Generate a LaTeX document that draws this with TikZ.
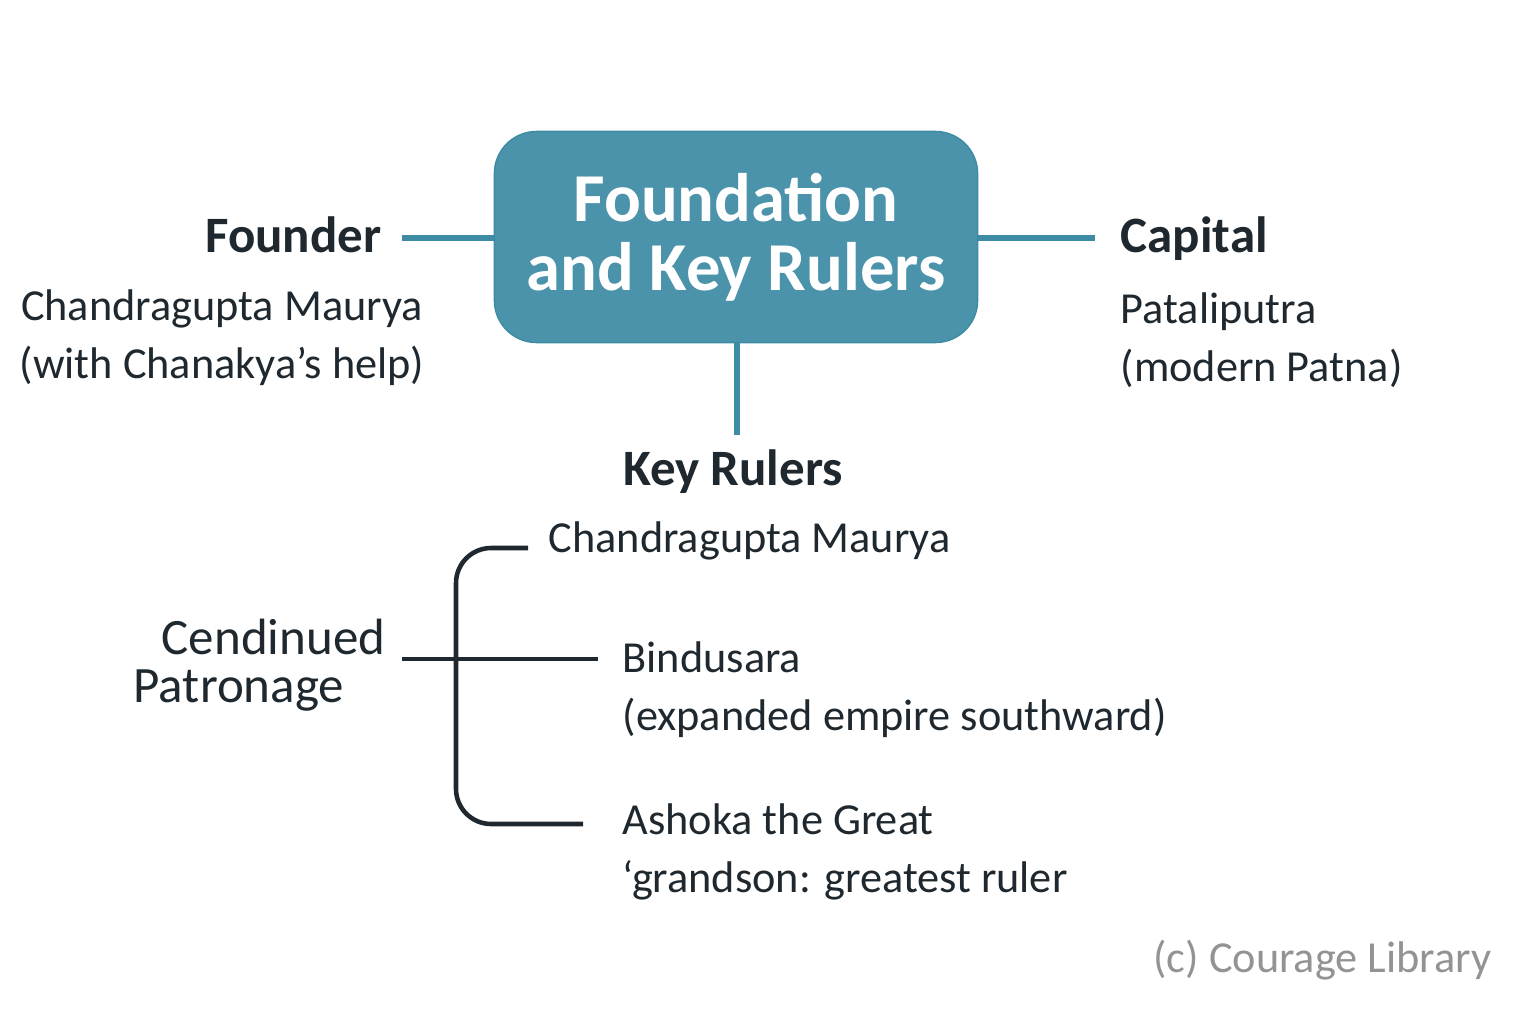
\documentclass[tikz,border=0pt]{standalone}
\usepackage{fontspec}
\setmainfont{Carlito}
\usetikzlibrary{positioning}
\definecolor{tealbox}{HTML}{4A93AA}
\definecolor{tealline}{HTML}{3D8BA5}
\definecolor{ink}{HTML}{1E282E}
\tikzset{heading/.style={font=\fontsize{14.5}{18}\selectfont\bfseries,text=ink,inner sep=0pt}}
\tikzset{body/.style={font=\fontsize{12.6}{16.5}\selectfont,text=ink,inner sep=0pt,align=left}}
\tikzset{tealrule/.style={draw=tealline,line width=1.6pt}}
\tikzset{darkrule/.style={draw=ink,line width=1.3pt,rounded corners=10pt}}
\begin{document}
\begin{tikzpicture}[x=0.01cm,y=-0.01cm]
    \useasboundingbox (0,0) rectangle (1536,1024);
    % Central box
    \node[fill=tealbox,draw=tealline,rounded corners=12pt,minimum width=4.83cm,minimum height=2.11cm,
          text=white,font=\fontsize{19.5}{19.5}\selectfont\bfseries,align=center] (main) at (736,237)
          {Foundation\\and Key Rulers};
    % Founder
    \node[heading,anchor=base east] (founder) at (382,252) {Founder};
    \node[body,align=center] (founderTxt) at (222,338) {Chandragupta Maurya\\(with Chanakya's help)};
    \coordinate (fEnd) at (402,238);
    \draw[tealrule] (fEnd) -- (main.west |- fEnd);
    % Capital
    \node[heading,anchor=base west] (capital) at (1120,252) {Capital};
    \node[body,anchor=north west] (capitalTxt) at (1120,292) {Pataliputra\\(modern Patna)};
    \coordinate (cEnd) at (1095,238);
    \draw[tealrule] (main.east |- cEnd) -- (cEnd);
    % Key rulers
    \node[heading] (rulers) at (733,472) {Key Rulers};
    \coordinate (rTop) at (737,435);
    \draw[tealrule] (main.south -| rTop) -- (rTop);
    \node[body,anchor=west] (chandra) at (548,541) {Chandragupta Maurya};
    \node[body,anchor=north west] (bindu) at (622,641) {Bindusara\\(expanded empire southward)};
    \node[body,anchor=north west] (ashoka) at (622,803) {Ashoka the Great\\‘grandson: greatest ruler};
    % Patronage bracket
    \node[body,font=\fontsize{14.5}{18}\selectfont,anchor=east] (cend) at (386,637) {Cendinued};
    \node[body,font=\fontsize{14.5}{18}\selectfont,anchor=west] (patr) at (133,691) {Patronage};
    \coordinate (bTop) at (528,548);
    \coordinate (bBot) at (583,824);
    \coordinate (bMid) at (598,659);
    \draw[darkrule] (bTop) -- (456,548) -- (456,824) -- (bBot);
    \draw[darkrule] (402,659) -- (bMid);
    % Credit
    \node[body,text=gray!85,anchor=east] (credit) at (1492,960) {(c) Courage Library};
\end{tikzpicture}
\end{document}
